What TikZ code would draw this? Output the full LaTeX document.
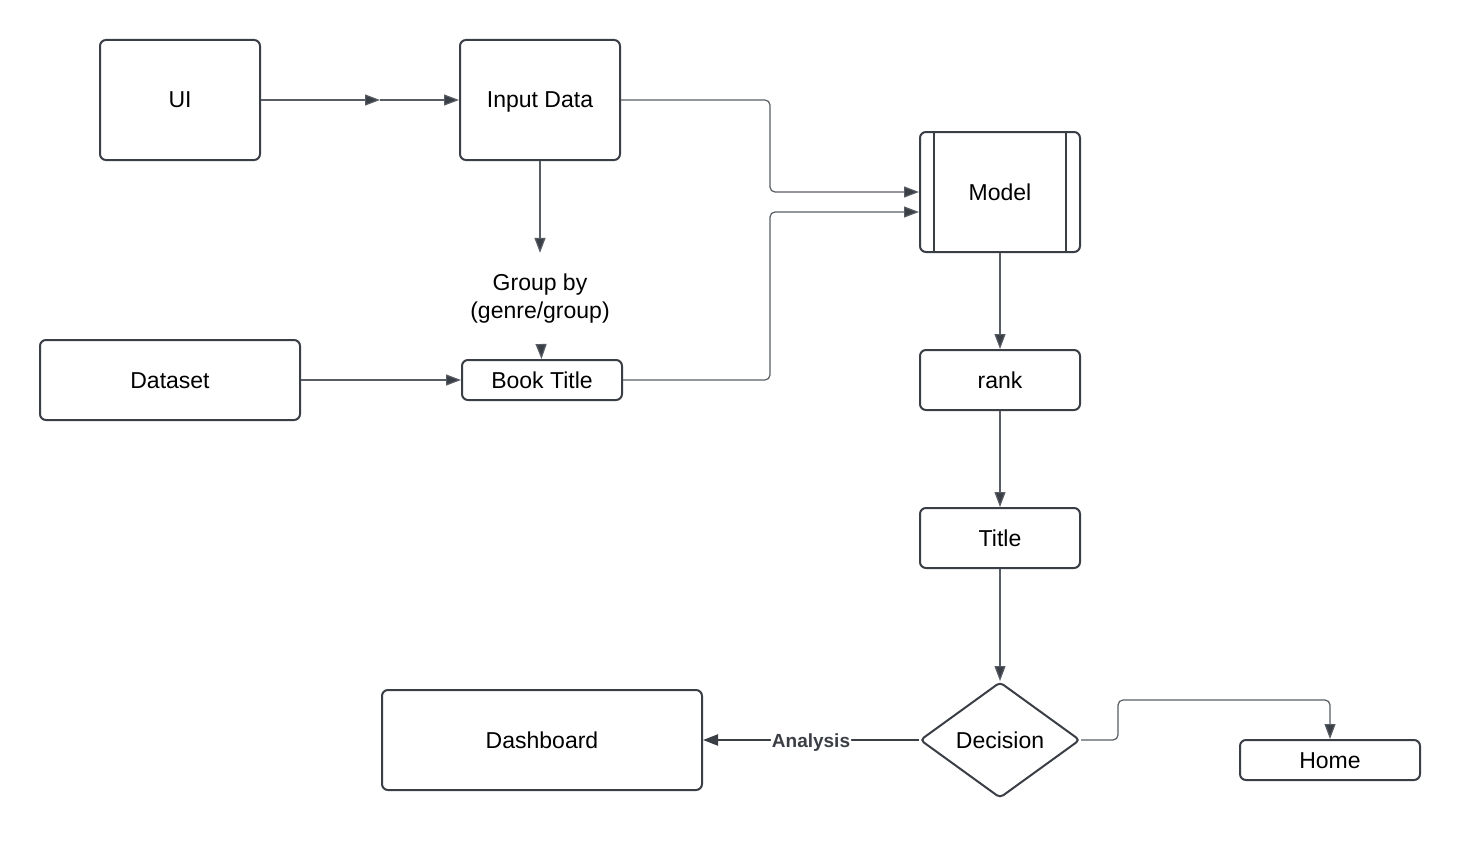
\documentclass[tikz,border=0pt]{standalone}
\usepackage{fontspec}
\setmainfont{Liberation Sans}
\usepackage{tikz}
\usetikzlibrary{arrows.meta,shapes.geometric}
\definecolor{boxline}{HTML}{3A3E45}
\definecolor{connline}{HTML}{585C64}
\begin{document}
\begin{tikzpicture}[x=0.5pt, y=-0.5pt,
		every node/.style={font=\fontsize{11.5}{14}\selectfont},
		box/.style={draw=boxline, line width=1pt, rounded corners=3pt, inner sep=0pt, text height=8.3pt, text depth=0.3pt},
		conn/.style={draw=connline, line width=0.6pt, rounded corners=2.5pt, -{Triangle[length=7.5pt, width=5.5pt, fill=boxline]}},
		strongconn/.style={conn, draw=boxline, line width=1.1pt},
		lbl/.style={fill=white, inner sep=0.5pt, text=boxline, text height=7pt, text depth=0pt, font=\fontsize{9.5}{11}\selectfont\bfseries}]
		\useasboundingbox (0, 0) rectangle (1460, 840);
		\node[box, minimum width=80pt, minimum height=60pt] (ui) at (180, 100) {UI};
		\node[box, minimum width=80pt, minimum height=60pt] (input) at (540, 100) {Input Data};
		\node[box, minimum width=80pt, minimum height=60pt] (model) at (1000, 192) {Model};
		\draw[boxline, line width=1pt] ([xshift=7.5pt]model.north west) to ([xshift=7.5pt]model.south west);
		\draw[boxline, line width=1pt] ([xshift=-7.5pt]model.north east) to ([xshift=-7.5pt]model.south east);
		\node[align=center, inner ysep=10.5pt] (group) at (540, 299) {Group by\\(genre/group)};
		\node[box, minimum width=130pt, minimum height=40pt] (dataset) at (170, 380) {Dataset};
		\node[box, minimum width=80pt, minimum height=20pt] (book) at (542, 380) {Book Title};
		\node[box, minimum width=80pt, minimum height=30pt] (rank) at (1000, 380) {rank};
		\node[box, minimum width=80pt, minimum height=30pt] (title) at (1000, 538) {Title};
		\node[box, diamond, rounded corners=2pt, aspect=1.38, minimum width=80pt, minimum height=58pt] (decision) at (1000, 740) {Decision};
		\node[box, minimum width=160pt, minimum height=50pt] (dashboard) at (542, 740) {Dashboard};
		\node[box, minimum width=90pt, minimum height=20pt] (home) at (1330, 760) {Home};
		\coordinate (uimid) at (380, 100);
		\coordinate (join) at (770, 0);
		\coordinate (modelin) at ([yshift=-10pt]model.west);
		\coordinate (homejoin) at (1118, 700);
		\draw[conn] (ui) to (uimid);
		\draw[conn] (uimid) to (input);
		\draw[conn] (input) to (group);
		\draw[conn] (group) to (book);
		\draw[conn] (dataset) to (book);
		\draw[conn] (input.east) -| (join |- model.west) -- (model.west);
		\draw[conn] (book.east) -| (join |- modelin) -- (modelin);
		\draw[conn] (model) to (rank);
		\draw[conn] (rank) to (title);
		\draw[conn] (title) to (decision);
		\draw[strongconn] (decision) to node[lbl] {Analysis} (dashboard);
		\draw[conn] (decision.east) -| (homejoin) -| (home.north);
	\end{tikzpicture}
\end{document}
